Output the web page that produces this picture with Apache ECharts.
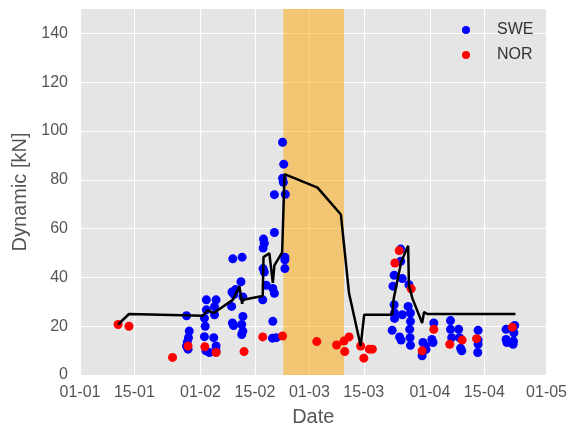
<!DOCTYPE html>
<html>
<head>
<meta charset="utf-8">
<script src="https://cdn.jsdelivr.net/npm/echarts@6/dist/echarts.min.js"></script>
<style>
html,body{margin:0;padding:0;background:#fff;}
#chart{width:570px;height:432px;}
</style>
</head>
<body>
<div id="chart"></div>
<script>
// x values are days counted from 1 January
var tickDays=[0,14,31,45,59,73,90,104,120];
var tickLabels=['01-01','15-01','01-02','15-02','01-03','15-03','01-04','15-04','01-05'];
var yTicks=[0,20,40,60,80,100,120,140];
var bandDays=[52.3,67.9];

// black line
var lineDays=[9.8,12.6,31.6,32.9,34.4,39.3,41,41.7,41.9,47,47.2,48.7,49.6,50,52,52.6,61.1,67.1,69.2,72.2,73.1,80.3,80.7,82.6,84.4,84.6,85.5,88,88.5,89.3,112];
var lineValues=[20.7,25,24.3,26.5,25.4,30.8,36.4,29.2,30.8,32.4,48.3,49.9,37.8,44.9,50.3,82.3,76.8,65.8,33.5,11.9,24.7,24.7,31.4,46.3,53,36.8,31.4,21.3,25.8,25,25];

// SWE points
var sweDays=[27.4,28.1,27.9,27.6,27.4,27.8,
	32.5,35,32.5,34.6,34.6,32,32.2,32,32.4,33.3,34.4,35,35,
	39.3,41.7,39.1,40,39.6,41.4,39,41.9,41.9,39.2,39.5,41.6,41.9,41.6,
	47.2,47.4,47.1,47.1,47.4,47.9,47,49.6,50,49.6,49.5,50.5,50,50,
	52.1,52.4,52.1,52.3,52.8,52.7,52.7,52.7,
	82.5,82.5,80.8,82.9,80.5,84.6,80.8,80.9,80.9,82.9,84.4,85,85,84.8,84.9,85,80.3,82.2,82.6,
	88.2,88.8,88,89,90.5,90.8,91,
	95.3,95.3,95.6,97.4,97.6,97.9,98.2,
	102.4,102.4,102.4,102.3,
	109.6,109.6,109.8,111.8,111.6,111.5,111.4];
var sweValues=[24.3,18,15.3,13.5,11.9,10.6,
	30.8,30.8,26.7,28,24.7,23.3,20,15.7,9.9,9.2,15.3,11.9,9.9,
	47.6,48.3,34,35,33,38.2,28.1,32,24,21.3,20.3,20.7,18,16.6,
	55.7,54,52,43.6,42.2,36.8,30.8,35.5,33.5,22,15.1,15.3,58.4,73.9,
	95.4,86.4,80.6,79,74.1,48.3,47.2,43.6,
	51.6,46.6,40.9,39.5,36.4,37,28.8,25.4,23.2,24.7,28.1,25.4,22,18.7,15.3,12.2,18.3,15.6,14.3,
	13.3,11.9,7.9,10.5,14.6,13.3,21.3,
	22.3,18.7,15.3,18.7,15.3,11,9.9,
	18.3,14.3,12.6,9.2,
	18.7,14.6,13.3,20.3,17.3,13.9,12.6];

// NOR points
var norDays=[9.8,12.6,23.8,27.8,32.1,35,42.2,47,52.1,60.9,66,67.9,68.1,69.2,72.2,73,74.4,75.2,82.1,81,85.2,91,88,95.1,98.3,102,111.2];
var norValues=[20.7,20,7.2,11.9,11.6,9.2,9.6,15.6,16,13.7,12.3,13.9,9.6,15.6,11.9,6.9,10.6,10.6,51,45.9,35.3,18.7,9.9,12.6,14.3,14.9,19.6];

function pairs(xs,ys){
	var out=[];
	for(var i=0;i<xs.length;i++){
		out.push([xs[i],ys[i]]);
	}
	return out;
}

var font='"Liberation Sans", Arial, sans-serif';
var myChart=echarts.init(document.getElementById('chart'),null,{renderer:'canvas'});
var option={
	animation:false,
	backgroundColor:'#fff',
	textStyle:{fontFamily:font},
	grid:{left:80,right:22,top:9,bottom:52,show:true,backgroundColor:'#e5e5e5',borderWidth:0},
	legend:{
		orient:'vertical',left:457,top:17,itemWidth:52,itemHeight:8,itemGap:9,
		icon:'circle',
		textStyle:{fontSize:16,color:'#333',fontFamily:font},
		data:['SWE','NOR']
	},
	xAxis:{
		type:'value',min:0,max:120,
		name:'Date',nameLocation:'middle',nameGap:32,
		nameTextStyle:{fontSize:20,color:'#555',fontFamily:font},
		axisLine:{show:false},
		axisTick:{show:false,customValues:tickDays},
		axisLabel:{
			customValues:tickDays,fontSize:16,color:'#555',margin:10,fontFamily:font,
			formatter:function(v){
				var i=tickDays.indexOf(v);
				return i>=0?tickLabels[i]:'';
			}
		},
		splitLine:{show:true,lineStyle:{color:'#fff',width:1}}
	},
	yAxis:{
		type:'value',min:0,max:150,
		name:'Dynamic [kN]',nameLocation:'middle',nameGap:44,
		nameTextStyle:{fontSize:20,color:'#555',fontFamily:font},
		axisLine:{show:false},
		axisTick:{show:false,customValues:yTicks},
		axisLabel:{customValues:yTicks,fontSize:16,color:'#555',margin:12,fontFamily:font},
		splitLine:{show:true,lineStyle:{color:'#fff',width:1}}
	},
	series:[
		{
			name:'band',type:'scatter',data:[],z:1,silent:true,
			markArea:{
				silent:true,
				itemStyle:{color:'rgba(255,165,0,0.5)'},
				data:[[{xAxis:bandDays[0]},{xAxis:bandDays[1]}]]
			}
		},
		{
			name:'SWE',type:'scatter',symbolSize:9,z:3,
			itemStyle:{color:'#0000ff',opacity:1},
			data:pairs(sweDays,sweValues)
		},
		{
			name:'NOR',type:'scatter',symbolSize:9,z:3,
			itemStyle:{color:'#ff0000',opacity:1},
			data:pairs(norDays,norValues)
		},
		{
			name:'line',type:'line',showSymbol:false,symbol:'none',z:5,
			lineStyle:{color:'#000',width:2.5},
			data:pairs(lineDays,lineValues)
		}
	]
};
myChart.setOption(option);
</script>
</body>
</html>
